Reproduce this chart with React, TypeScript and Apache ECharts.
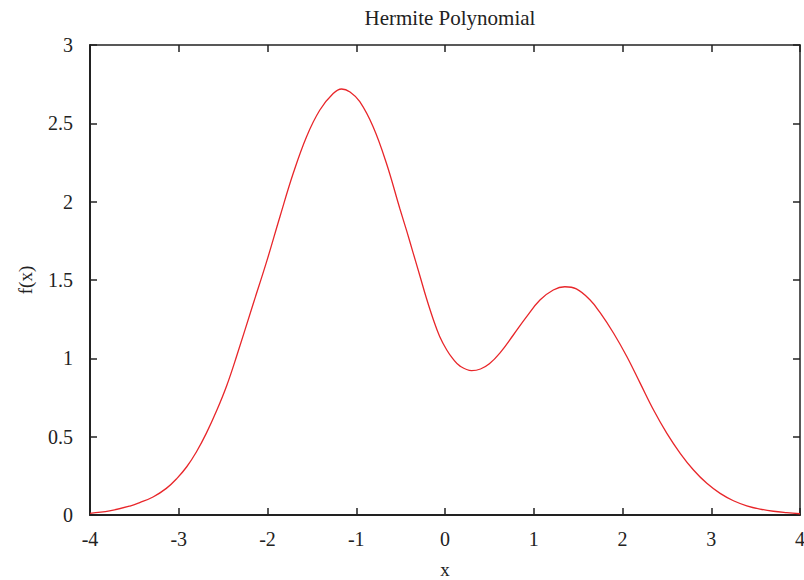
import React, { useEffect, useRef } from "react";
import * as echarts from "echarts";

const xs = [-4, -3.78, -3.55, -3.44, -3.29, -3.14, -3.02, -2.91, -2.8, -2.69, -2.57, -2.46, -2.35, -2.16, -2.01, -1.86, -1.71, -1.56, -1.41, -1.26, -1.165, -1.07, -0.96, -0.81, -0.66, -0.51, -0.43, -0.36, -0.28, -0.21, -0.13, -0.06, 0.02, 0.09, 0.17, 0.3, 0.4, 0.5, 0.62, 0.77, 0.92, 1.07, 1.22, 1.35, 1.48, 1.63, 1.75, 1.9, 2.05, 2.2, 2.35, 2.5, 2.65, 2.8, 2.95, 3.1, 3.25, 3.4, 3.55, 3.7, 3.85, 4];
const fx = [0.011, 0.026, 0.057, 0.079, 0.115, 0.17, 0.234, 0.308, 0.404, 0.521, 0.67, 0.825, 1.01, 1.35, 1.617, 1.904, 2.181, 2.415, 2.585, 2.69, 2.719, 2.7, 2.638, 2.478, 2.245, 1.958, 1.81, 1.675, 1.521, 1.385, 1.245, 1.14, 1.053, 0.996, 0.95, 0.922, 0.932, 0.965, 1.035, 1.149, 1.266, 1.372, 1.436, 1.457, 1.443, 1.375, 1.29, 1.16, 1.01, 0.84, 0.67, 0.521, 0.394, 0.287, 0.202, 0.138, 0.091, 0.059, 0.038, 0.024, 0.015, 0.008];

const FONT = "Liberation Serif";
const AX = "#222";

export default function App() {
  const ref = useRef<HTMLDivElement>(null);
  useEffect(() => {
    const chart = echarts.init(ref.current!, null, { renderer: "svg" });
    const data = xs.map((x, i) => [x, fx[i]]);
    const tickStyle = { show: true, inside: true, length: 7, lineStyle: { color: AX, width: 1.5 } };
    chart.setOption({
      animation: false,
      backgroundColor: "#fff",
      title: {
        text: "Hermite Polynomial",
        left: 445,
        textAlign: "center",
        top: 2,
        textStyle: { fontFamily: FONT, fontSize: 21, fontWeight: "normal", color: "#222" },
      },
      grid: { left: 90, right: 4, top: 45, bottom: 65, outerBoundsMode: "none", containLabel: false },
      xAxis: [
        {
          type: "value", min: -4, max: 4, interval: 1, position: "bottom",
          name: "x", nameLocation: "middle", nameGap: 45,
          nameTextStyle: { fontFamily: FONT, fontSize: 19, color: "#222" },
          axisLine: { show: true, onZero: false, lineStyle: { color: AX, width: 2 } },
          axisTick: tickStyle,
          axisLabel: { fontFamily: FONT, fontSize: 20, color: "#222", margin: 14 },
          splitLine: { show: false },
        },
        {
          type: "value", min: -4, max: 4, interval: 1, position: "top",
          axisLine: { show: true, onZero: false, lineStyle: { color: AX, width: 1.5 } },
          axisTick: tickStyle,
          axisLabel: { show: false },
          splitLine: { show: false },
        },
      ],
      yAxis: [
        {
          type: "value", min: 0, max: 3, interval: 0.5, position: "left",
          name: "f(x)", nameLocation: "middle", nameGap: 55, nameRotate: 90,
          nameTextStyle: { fontFamily: FONT, fontSize: 19, color: "#222" },
          axisLine: { show: true, onZero: false, lineStyle: { color: AX, width: 2 } },
          axisTick: tickStyle,
          axisLabel: { fontFamily: FONT, fontSize: 20, color: "#222", margin: 17 },
          splitLine: { show: false },
        },
        {
          type: "value", min: 0, max: 3, interval: 0.5, position: "right",
          axisLine: { show: true, onZero: false, lineStyle: { color: AX, width: 1.5 } },
          axisTick: tickStyle,
          axisLabel: { show: false },
          splitLine: { show: false },
        },
      ],
      series: [
        {
          type: "line",
          data,
          smooth: 0.4,
          showSymbol: false,
          lineStyle: { color: "#e8262a", width: 1.3 },
          xAxisIndex: 0,
          yAxisIndex: 0,
        },
      ],
    });
    return () => chart.dispose();
  }, []);
  return <div ref={ref} style={{ width: 804, height: 580, position: "absolute", left: 0, top: 0 }} />;
}
